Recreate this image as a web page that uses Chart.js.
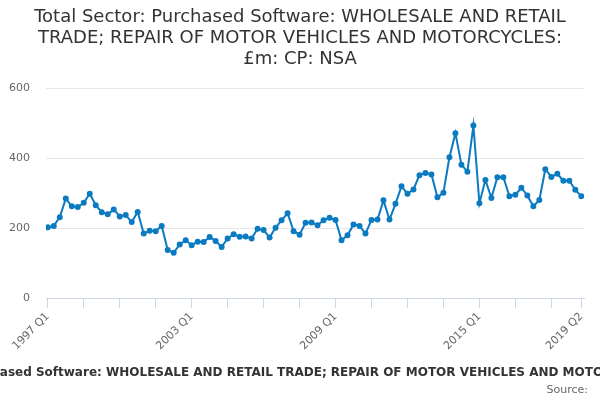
<!DOCTYPE html>
<html>
<head>
<meta charset="utf-8">
<script src="https://cdn.jsdelivr.net/npm/chart.js@4.4.1/dist/chart.umd.min.js"></script>
<style>
  html, body { margin: 0; padding: 0; background: #fff; }
  #wrap { width: 600px; height: 400px; }
</style>
</head>
<body>
<div id="wrap"><canvas id="chart" width="600" height="400"></canvas></div>
<script>
// Quarterly values, 1997 Q1 .. 2019 Q2 (£m)
const startYear = 1997;
const values = [
  202, 206, 231, 284, 262, 260, 272, 298, 265, 245,
  239, 253, 233, 237, 217, 246, 184, 192, 191, 206,
  137, 129, 153, 165, 151, 161, 160, 174, 163, 146,
  170, 182, 175, 176, 170, 198, 194, 173, 201, 222,
  242, 191, 181, 215, 216, 208, 222, 229, 223, 165,
  179, 210, 206, 184, 223, 224, 279, 224, 269, 319,
  298, 310, 351, 357, 353, 288, 301, 402, 471, 381,
  361, 493, 271, 337, 286, 345, 345, 291, 295, 315,
  293, 262, 280, 368, 346, 355, 335, 335, 309, 291
];
const quarterLabels = values.map((v, i) => (startYear + Math.floor(i / 4)) + ' Q' + (i % 4 + 1));
const xTickIdx = [0, 6, 12, 18, 24, 30, 36, 42, 48, 54, 60, 66, 72, 78, 84, 89];
const xLabelIdx = [0, 24, 48, 72, 89];
const yTicks = [0, 200, 400, 600];

const titleLines = [
  'Total Sector: Purchased Software: WHOLESALE AND RETAIL',
  'TRADE; REPAIR OF MOTOR VEHICLES AND MOTORCYCLES:',
  '£m: CP: NSA'
];
const axisTitle = 'Total Sector: Purchased Software: WHOLESALE AND RETAIL TRADE; REPAIR OF MOTOR VEHICLES AND MOTORCYCLES';
const sourceText = 'Source:';

const lineColor = '#0b7bc1';
const fontFamily = '"DejaVu Sans", sans-serif';

// title centred on the whole canvas, axis title (overflowing, not squeezed) and source note
const textLayer = {
  id: 'textLayer',
  afterDraw(chart) {
    const ctx = chart.ctx;
    ctx.save();
    ctx.textBaseline = 'middle';

    ctx.fillStyle = '#333333';
    ctx.font = '18px ' + fontFamily;
    ctx.textAlign = 'center';
    titleLines.forEach((line, i) => ctx.fillText(line, 300, 17 + i * 21));

    ctx.font = 'bold 12px ' + fontFamily;
    ctx.textAlign = 'left';
    // the reference places "WHOLESALE" at x = 106
    const prefix = ctx.measureText('Total Sector: Purchased Software: ').width;
    ctx.fillText(axisTitle, 106 - prefix, 373);

    ctx.fillStyle = '#666666';
    ctx.font = '11px ' + fontFamily;
    ctx.textAlign = 'right';
    ctx.fillText(sourceText, 588, 390);
    ctx.restore();
  }
};

new Chart(document.getElementById('chart'), {
  type: 'line',
  data: {
    datasets: [{
      data: values.map((v, i) => ({ x: i, y: v })),
      borderColor: lineColor,
      backgroundColor: lineColor,
      borderWidth: 2,
      pointRadius: 2,
      pointHoverRadius: 3,
      tension: 0
    }]
  },
  options: {
    responsive: false,
    animation: false,
    layout: { padding: { left: 0, right: 16, top: 88, bottom: 0 } },
    plugins: {
      legend: { display: false },
      tooltip: { enabled: false },
      title: { display: false }
    },
    scales: {
      x: {
        type: 'linear',
        min: -0.3,
        max: 89.45,
        afterBuildTicks: scale => { scale.ticks = xTickIdx.map(v => ({ value: v })); },
        afterFit: scale => { scale.height = 102; },
        ticks: {
          autoSkip: false,
          maxRotation: 45,
          minRotation: 45,
          color: '#666666',
          font: { family: fontFamily, size: 11 },
          padding: 2,
          callback: v => xLabelIdx.includes(v) ? quarterLabels[v] : ''
        },
        grid: {
          drawOnChartArea: false,
          drawTicks: true,
          tickLength: 10,
          color: '#ccd6eb'
        },
        border: { display: true, color: '#ccd6eb' }
      },
      y: {
        min: 0,
        max: 600,
        afterBuildTicks: scale => { scale.ticks = yTicks.map(v => ({ value: v })); },
        afterFit: scale => { scale.width = 46; },
        ticks: {
          color: '#666666',
          font: { family: fontFamily, size: 11 },
          padding: 16
        },
        grid: { color: '#e6e6e6', drawTicks: false },
        border: { display: false }
      }
    }
  },
  plugins: [textLayer]
});
</script>
</body>
</html>
